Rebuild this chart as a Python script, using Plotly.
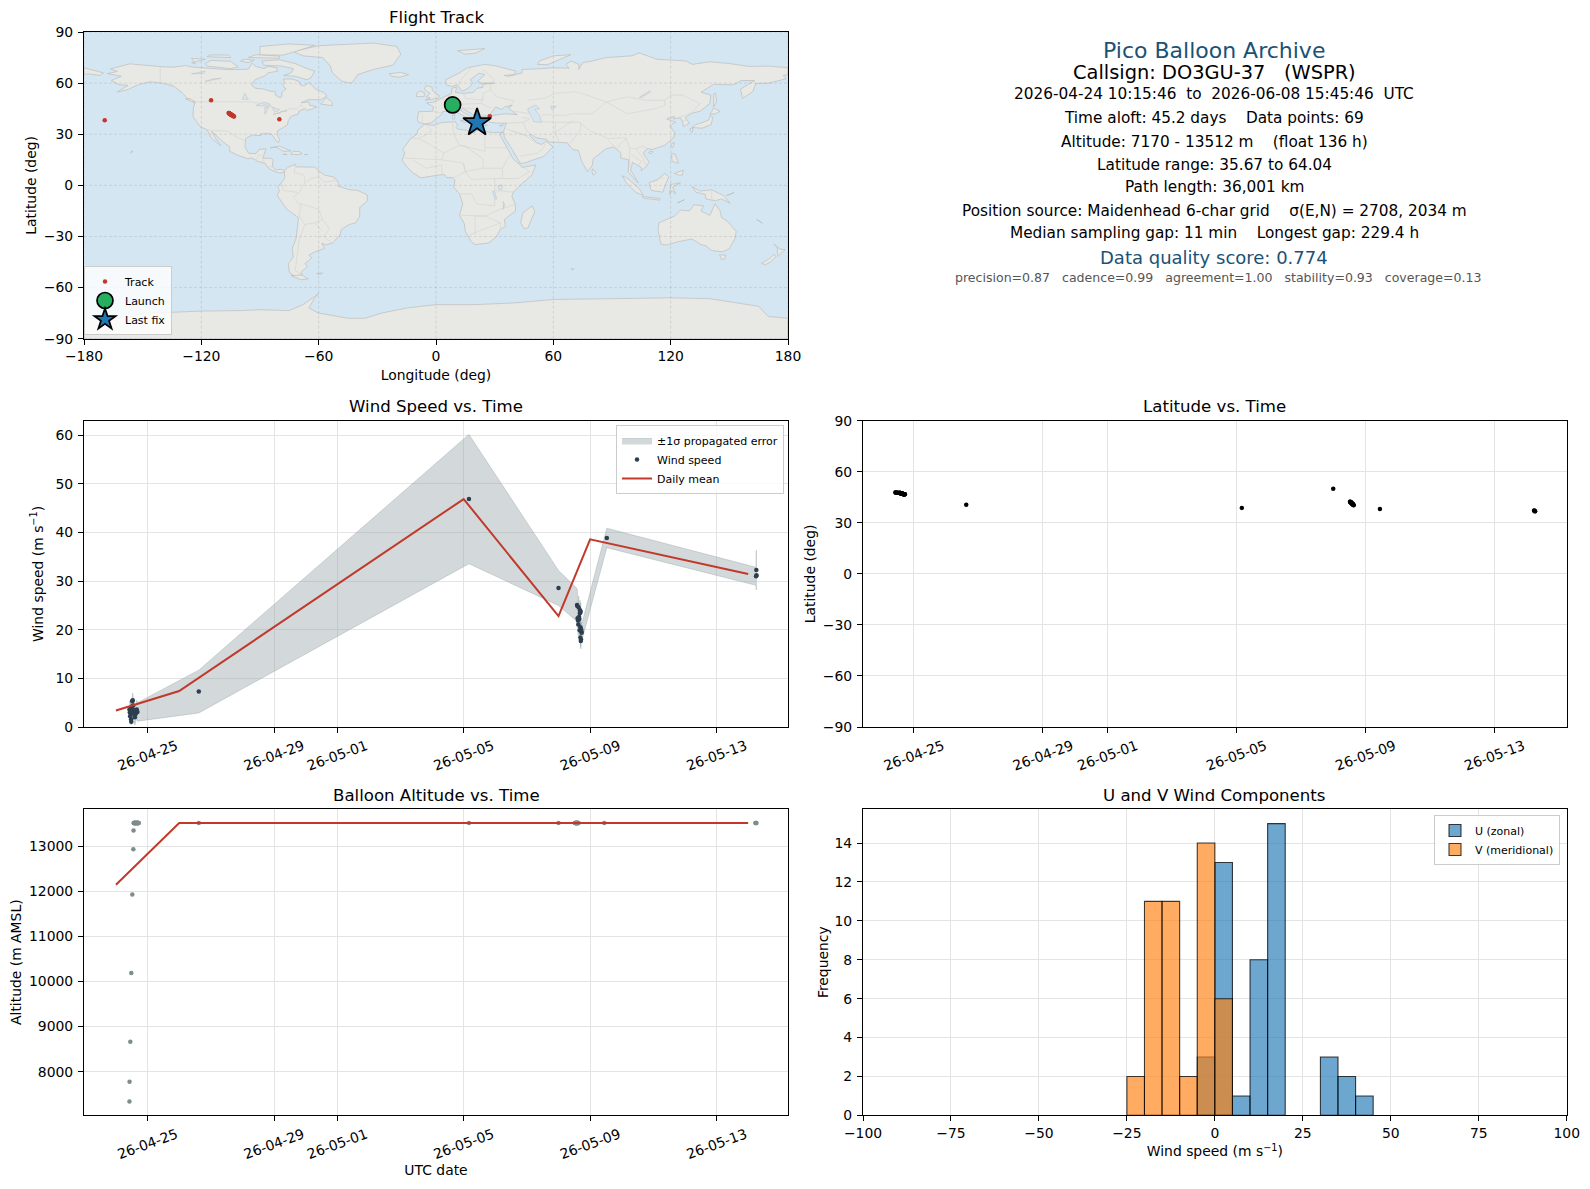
import plotly.graph_objects as go

# Размер страницы: у body отступ 8 px, поэтому фигура меньше окна и все позиции сдвинуты
PAGE = 8
W, H = 1590 - 2 * PAGE, 1189 - 2 * PAGE
RED = '#c0392b'
NAVY = '#2c3e50'
GRAY = '#7f8c8d'
BLUE = '#1a5276'
LAND = '#e8e8e4'
OCEAN = '#d4e6f1'
GRID = '#e4e4e4'
FONT = 'DejaVu Sans'

# Значения
launch_times = ['10:15', '10:20', '10:55', '11:40', '12:26', '13:12', '13:21', '13:30', '13:37', '13:44',
                '13:51', '13:58', '14:05', '14:12', '14:19', '14:26', '14:33', '14:40', '14:47', '14:54',
                '15:01', '15:08', '15:15', '15:22', '15:29', '15:36', '15:43', '15:50', '15:57', '16:04',
                '16:11', '16:18', '16:25', '16:32', '16:39', '16:46', '16:53', '17:00', '17:07', '17:14']
wing_times = ['12:30', '12:38', '12:46', '12:54', '13:02', '13:10', '13:18', '13:26', '13:34', '13:42', '13:50',
              '13:58', '14:06', '14:14', '14:22', '14:30', '14:38', '14:46', '14:54', '15:02', '15:10']

pos_time = (['2026-04-24 ' + t for t in launch_times]
            + ['2026-04-26 14:54', '2026-05-05 04:00', '2026-05-08 00:00']
            + ['2026-05-08 ' + t for t in wing_times]
            + ['2026-05-09 10:45', '2026-05-14 05:30', '2026-05-14 05:45', '2026-05-14 06:00', '2026-05-14 06:15'])
pos_lat = [47.8, 47.8, 47.8, 47.7, 47.7, 47.7, 47.6, 47.6, 47.6, 47.5, 47.5, 47.5, 47.4, 47.4, 47.4, 47.3,
           47.3, 47.3, 47.2, 47.2, 47.2, 47.1, 47.1, 47.1, 47.0, 47.0, 47.0, 47.0, 46.9, 46.9, 46.9, 46.9,
           46.8, 46.8, 46.8, 46.8, 46.8, 46.8, 46.8, 46.8,
           40.6, 38.8, 50.0,
           42.4, 42.4, 42.3, 42.2, 42.1, 42.0, 41.9, 41.8, 41.7, 41.6, 41.5, 41.4, 41.3, 41.2, 41.1, 41.0,
           40.9, 40.8, 40.7, 40.5, 40.4,
           38.2, 37.3, 37.1, 36.9, 36.8]
pos_lon = [8.6, 8.6, 8.7, 8.7, 8.8, 8.8, 8.9, 8.9, 8.9, 9.0, 9.0, 9.0, 9.1, 9.1, 9.1, 9.2, 9.2, 9.2, 9.3, 9.3,
           9.3, 9.4, 9.4, 9.4, 9.5, 9.5, 9.5, 9.5, 9.6, 9.6, 9.6, 9.6, 9.7, 9.7, 9.7, 9.7, 9.8, 9.8, 9.8, 9.8,
           27.5, -80.1, -115.0,
           -106.0, -105.9, -105.8, -105.7, -105.6, -105.4, -105.3, -105.2, -105.0, -104.9, -104.8, -104.6,
           -104.5, -104.4, -104.2, -104.1, -103.9, -103.8, -103.6, -103.5, -103.3,
           -169.4, 20.5, 20.7, 20.9, 21.0]
pos_alt = [7340, 7779, 8663, 10187, 11927, 12927, 13347, 13512, 13512, 13512, 13512, 13512, 13512, 13512,
           13512, 13512, 13512, 13512, 13512, 13512, 13512, 13512, 13512, 13512, 13512, 13512, 13512, 13512,
           13512, 13512, 13512, 13512, 13512, 13512, 13512, 13512, 13512, 13512, 13512, 13512,
           13512, 13512, 13512,
           13512, 13512, 13512, 13512, 13512, 13512, 13512, 13512, 13512, 13512, 13512, 13512, 13512, 13512,
           13512, 13512, 13512, 13512, 13512, 13512, 13512,
           13512, 13512, 13512, 13512, 13512]

launch_lon, launch_lat = [8.5], [47.2]
last_lon, last_lat = [21.0], [36.8]

wind_time = ['2026-04-24 10:15', '2026-04-24 10:30', '2026-04-24 10:45', '2026-04-24 11:00', '2026-04-24 11:15',
             '2026-04-24 11:30', '2026-04-24 11:40', '2026-04-24 11:55', '2026-04-24 12:10', '2026-04-24 12:25',
             '2026-04-24 12:45', '2026-04-24 13:05', '2026-04-24 13:25', '2026-04-24 13:45', '2026-04-24 14:05',
             '2026-04-24 14:25', '2026-04-24 14:50', '2026-04-24 15:20', '2026-04-24 15:50', '2026-04-24 16:20',
             '2026-04-26 14:54', '2026-05-05 04:00', '2026-05-08 00:00',
             '2026-05-08 14:05', '2026-05-08 14:20', '2026-05-08 14:30', '2026-05-08 14:50', '2026-05-08 15:00',
             '2026-05-08 15:18', '2026-05-08 15:36', '2026-05-08 15:50', '2026-05-08 16:04', '2026-05-08 16:15',
             '2026-05-08 16:22', '2026-05-08 16:36', '2026-05-08 16:42', '2026-05-08 16:50', '2026-05-08 16:55',
             '2026-05-08 17:05', '2026-05-08 17:15', '2026-05-08 17:25', '2026-05-08 17:35',
             '2026-05-09 12:40', '2026-05-14 06:00', '2026-05-14 06:10', '2026-05-14 06:20']
wind_speed = [3.6, 3.0, 2.2, 3.8, 2.8, 1.6, 1.1, 3.4, 4.2, 5.3, 5.5, 4.4, 3.5, 2.9, 2.4, 2.0, 2.6, 3.3, 3.6, 3.1,
              7.3, 46.9, 28.6,
              25.1, 24.9, 22.4, 21.9, 21.1, 24.6, 22.7, 22.2, 19.9, 23.4, 24.0, 18.4, 20.5, 23.7, 17.7, 18.0, 20.0,
              19.6, 19.4,
              38.9, 31.0, 32.3, 31.2]
wind_sigma = [1.9, 1.8, 1.5, 1.9, 1.7, 1.2, 0.7, 1.6, 1.8, 1.6, 1.5, 1.8, 1.8, 1.8, 1.8, 1.6, 1.8, 1.8, 1.9, 1.9,
              4.4, 13.3, 3.6,
              3.4, 3.2, 2.6, 2.5, 2.3, 2.4, 2.2, 2.2, 2.0, 2.1, 2.1, 1.9, 1.9, 1.9, 1.6, 1.7, 1.7, 1.7, 1.7,
              2.0, 1.85, 4.1, 2.0]

mean_day = ['2026-04-24', '2026-04-26', '2026-05-05', '2026-05-08', '2026-05-09', '2026-05-14']
mean_wind = [3.4, 7.4, 46.9, 22.8, 38.6, 31.5]
mean_alt = [12144, 13512, 13512, 13512, 13512, 13512]

u_bins = [-2.5, 2.5, 7.5, 12.5, 17.5, 32.5, 37.5, 42.5]
u_counts = [3, 13, 1, 8, 15, 3, 2, 1]
v_bins = [-22.5, -17.5, -12.5, -7.5, -2.5, 2.5]
v_counts = [2, 11, 11, 2, 14, 6]

date_ticks = ['2026-04-25', '2026-04-29', '2026-05-01', '2026-05-05', '2026-05-09', '2026-05-13']
lon_ticks = [-180, -120, -60, 0, 60, 120, 180]
lat_ticks = [-90, -60, -30, 0, 30, 60, 90]

info_lines = [
    ('Pico Balloon Archive', 22, BLUE, 1214, 50.5),
    ('Callsign: DO3GU-37   (WSPR)', 19.4, 'black', 1214, 73),
    ('2026-04-24 10:15:46  to  2026-06-08 15:45:46  UTC', 15.3, 'black', 1214, 94),
    ('Time aloft: 45.2 days    Data points: 69', 15.3, 'black', 1214, 118),
    ('Altitude: 7170 - 13512 m    (float 136 h)', 15.3, 'black', 1214, 142),
    ('Latitude range: 35.67 to 64.04', 15.3, 'black', 1214, 164.5),
    ('Path length: 36,001 km', 15.3, 'black', 1214, 186.5),
    ('Position source: Maidenhead 6-char grid    σ(E,N) = 2708, 2034 m', 15.3, 'black', 1214, 210.5),
    ('Median sampling gap: 11 min    Longest gap: 229.4 h', 15.3, 'black', 1214, 233.5),
    ('Data quality score: 0.774', 18, BLUE, 1214, 257),
    ('precision=0.87   cadence=0.99   agreement=1.00   stability=0.93   coverage=0.13', 12.55, '#555555', 1218, 277.5),
]

# Контуры суши: долгота / широта
north_america = [(-156.6, 71.3), (-150, 70.5), (-141, 69.7), (-135, 69.3), (-128, 70.3), (-125, 69.5), (-115, 68.5),
                 (-108, 68), (-100, 68), (-96, 68.2), (-94, 71.7), (-92, 69.7), (-88, 68.6), (-85.5, 69.8), (-81.5, 69),
                 (-81, 67), (-86, 66), (-87, 64.5), (-92.5, 62), (-94.5, 59), (-92.5, 57), (-88, 56.5), (-85, 55.3),
                 (-82.3, 55.1), (-82, 52.9), (-79.5, 51.3), (-78.8, 52.5), (-79, 54.5), (-76.7, 56.5), (-78.5, 58.8),
                 (-77.5, 60), (-78, 62.4), (-73.5, 62.4), (-70, 61), (-69.5, 59), (-67.5, 58.3), (-65, 60.3),
                 (-61.5, 56.5), (-57.5, 54.5), (-55.7, 52.5), (-59, 50.2), (-65, 50.3), (-69, 48.5), (-65, 49),
                 (-64.5, 47), (-61, 46), (-63.5, 44.7), (-66, 44), (-67, 45), (-70, 43.7), (-70.5, 41.8), (-74, 40.6),
                 (-75.5, 38), (-76, 35.5), (-78, 34), (-81, 32), (-81.3, 30), (-80, 26.8), (-80.5, 25.2), (-81.8, 26),
                 (-82.8, 28), (-84, 30), (-86, 30.4), (-89.5, 30.2), (-89.5, 29.2), (-94, 29.5), (-97.3, 27.5),
                 (-97.7, 22.5), (-95.8, 18.8), (-92, 18.6), (-90.5, 21), (-87, 21.5), (-88, 18), (-88.5, 16), (-84, 15.8),
                 (-83.3, 14.9), (-83.7, 11), (-82, 9), (-79.5, 9.5), (-77.4, 8.7), (-78, 7.5), (-80, 7.3), (-81.5, 7.8),
                 (-83, 8.3), (-85.7, 10), (-87.5, 13), (-91, 14), (-94, 16), (-96.5, 15.7), (-101, 17.5), (-105.5, 20),
                 (-105.5, 22.5), (-109, 25.6), (-112.7, 29.5), (-114.7, 31.7), (-113, 28), (-110, 23.2), (-112, 25),
                 (-115, 28), (-117, 32.5), (-120.6, 34.5), (-122.5, 37.5), (-124.3, 40.3), (-124, 46), (-123, 49),
                 (-127, 51), (-130, 54.5), (-134, 58), (-139, 59.8), (-146, 60.8), (-152, 59.2), (-158, 56), (-163, 54.7),
                 (-157.5, 58.7), (-162, 59), (-166, 61.5), (-161, 64), (-168, 65.6), (-163, 66.8), (-166.5, 68.3)]
south_america = [(-77.4, 8.7), (-75.5, 10.7), (-72, 12.3), (-71.5, 10.8), (-68, 10.8), (-62, 10.7), (-60, 8.5), (-57, 6),
                 (-52, 4.8), (-50, 1.7), (-50, -0.5), (-44.5, -2.5), (-40, -3), (-35.2, -5.5), (-35, -9), (-39, -13),
                 (-39, -18), (-41, -22), (-44.5, -23), (-48.5, -26), (-49, -29), (-53, -34), (-56.5, -34.9), (-58.4, -34),
                 (-57, -37), (-62, -39), (-65, -41), (-63.5, -42.6), (-67, -46), (-65.7, -47.5), (-69, -51), (-68.4, -52.4),
                 (-72, -53.5), (-75, -51), (-75.5, -46), (-73, -42), (-73.5, -37), (-71.5, -31), (-70.3, -19), (-76.3, -14),
                 (-81.2, -6), (-80, -3), (-80.9, -1), (-78.5, 2), (-77.3, 4), (-77.5, 7)]
africa = [(-5.9, 35.8), (-1, 35.2), (3, 36.9), (10, 37.3), (11, 35), (10.2, 34), (11, 33), (15.5, 32.3), (19.5, 30.5),
          (20, 32), (23, 32.7), (25, 31.6), (29, 31), (32, 31.2), (34.2, 31.2), (32.5, 30), (34, 27), (36, 23), (37.3, 20),
          (39.5, 15.5), (43, 12), (44, 10.5), (51, 12), (49, 6), (44, 1), (39.5, -4), (38.8, -6.5), (40.5, -11), (40.7, -15),
          (35, -20), (35.5, -24), (32.8, -26), (31, -30), (27, -33.8), (20, -34.8), (18, -33), (15, -27), (14.5, -22.5),
          (12, -17.5), (13.7, -11), (12, -5), (9, -1), (9.7, 3), (8.5, 4.6), (5.5, 4.5), (4.4, 6.3), (1, 6), (-4, 5.2),
          (-7.7, 4.4), (-12, 7.5), (-15, 11), (-17.3, 14.7), (-16, 19), (-17, 21), (-13, 27.5), (-9.7, 30), (-9.3, 32.5)]
eurasia = [(-9, 37), (-9.5, 38.8), (-8.9, 43.2), (-1.8, 43.5), (-1.2, 46), (-4.7, 48.4), (-1.5, 48.7), (1.5, 50.5), (4, 52),
           (8, 54), (8.2, 57), (10.5, 57.7), (10, 54.5), (14, 54), (19, 54.5), (21, 57), (24, 57.5), (24, 59.3), (30, 60),
           (23, 60), (21.3, 61), (25, 65), (22, 65.8), (17.5, 62), (18.8, 60), (16.5, 57), (14, 55.5), (12.7, 56), (11, 59),
           (8, 58), (5.2, 59), (5, 62), (12, 66), (16, 69), (25, 71), (31, 70), (41, 67), (40, 65), (35, 64.5), (37, 64),
           (44, 66), (44, 68), (54, 68.5), (60, 69), (68, 68.8), (66.5, 71), (69, 73), (73, 71), (73, 68), (75, 72), (80, 73),
           (87, 75), (100, 76), (104, 77.7), (113, 74), (128, 73), (131, 71), (140, 72.5), (150, 71.5), (160, 69.8), (170, 70),
           (180, 69), (180, 65), (177.5, 64.5), (179, 62.5), (170, 60), (163.5, 59.8), (162, 55), (156.8, 51), (155.7, 56.5),
           (163, 61.5), (156, 61.5), (152, 59), (142, 59.3), (135.5, 54.7), (140.5, 53), (140, 48), (135, 43.5), (130.7, 42.3),
           (127.5, 39.8), (129.5, 36.5), (126.5, 34.5), (126, 37.5), (125, 39.7), (121.5, 39), (122, 40.5), (118, 39),
           (122.5, 37), (119.5, 35), (122, 31), (121.5, 28), (117, 23.5), (110.5, 21), (108, 21.6), (106, 19), (109, 13.5),
           (107, 10.5), (105, 8.7), (105, 10.5), (100.5, 13.5), (99.5, 9), (103.5, 1.4), (100.5, 5), (98.3, 8), (98.5, 15),
           (94.5, 16), (94.5, 19), (91, 22.5), (87, 21.5), (80.3, 15.5), (80, 12), (77.5, 8), (74.5, 14), (72.8, 20.5), (70, 21),
           (67, 25), (57.5, 25.5), (56.5, 27), (51, 28), (48.5, 30), (47.7, 29.5), (50, 26.5), (51.5, 25), (54, 24), (56.3, 26),
           (59.8, 22.5), (55, 17), (45, 13), (43, 13), (39, 21), (35, 28), (34.5, 31.5), (36, 36.5), (31, 36.5), (27.5, 37),
           (26.5, 39.5), (29, 41), (35, 42), (41.5, 41.5), (38, 44.5), (37, 45.5), (39, 47), (35, 46), (33.5, 44.5), (30.5, 46),
           (28, 42), (26, 40.8), (23, 40.5), (24, 38), (22.5, 36.5), (19.5, 41), (13.5, 45.5), (12.5, 44), (16, 41.5), (18.5, 40),
           (16.5, 38), (15.7, 40), (10.5, 43), (8, 44), (3.3, 43.2), (3, 41.7), (-0.5, 38.5), (-2.3, 36.8), (-5.5, 36)]
chukotka = [(-180, 69), (-175, 67.5), (-170, 66), (-172, 64.5), (-178, 65.5), (-180, 65)]
greenland = [(-73, 78.5), (-60, 82), (-32, 83.5), (-20, 81.5), (-18, 77), (-22, 70.5), (-32, 68), (-40, 65), (-43, 60),
             (-48, 61), (-53, 66), (-54, 70), (-58, 75), (-68, 76)]
australia = [(114, -22), (113.5, -26), (115, -34.5), (118, -35), (124, -33), (131, -31.5), (135.5, -34.8), (138, -35.5),
             (141, -38.3), (146.5, -39), (150, -37.3), (153, -31), (153.5, -27), (149, -21), (146, -19), (145.3, -15),
             (142.7, -10.8), (141.5, -14), (140, -17.7), (135.5, -15), (136.8, -12), (132, -11.3), (129.5, -15), (125, -14.5),
             (122, -18)]
antarctica = [(-180, -78), (-165, -78), (-155, -77), (-150, -75), (-135, -74.5), (-120, -73.8), (-100, -73.5), (-90, -73),
              (-75, -73.5), (-68, -70), (-60, -63.5), (-62, -66), (-65, -72), (-60, -75), (-45, -78), (-36, -78), (-28, -75),
              (-15, -72), (0, -70), (20, -70), (40, -69), (60, -67), (90, -66.5), (120, -66), (140, -66.5), (165, -71), (170, -77),
              (180, -78), (180, -90), (-180, -90)]
islands = [
    [(-80, 73.7), (-72, 71.5), (-67, 69), (-62, 67), (-64, 63), (-66, 62), (-72, 64), (-78, 64.5), (-74, 66), (-73, 68.5),
     (-79, 70), (-88, 70.5), (-89, 73)],
    [(-117, 70), (-105, 68.5), (-101, 69.5), (-105, 72.8), (-115, 73.3), (-118, 71.5)],
    [(-90, 76.5), (-78, 76.5), (-72, 78.5), (-62, 82.2), (-75, 83), (-90, 81.5)],
    [(-125, 72), (-118, 74), (-125, 74.5), (-123, 71.3)],
    [(-96, 75), (-80, 74.6), (-80, 75.8), (-92, 76.7)],
    [(-117, 75.5), (-105, 75), (-106, 76.5), (-116, 76.5)],
    [(-100, 73), (-96, 72), (-93, 73.5), (-98, 74)],
    [(-59, 47.7), (-53, 46.8), (-53, 48.5), (-56, 51.5)],
    [(-128, 50.8), (-123.5, 48.4), (-125, 50.5)],
    [(-84.8, 22), (-80, 23), (-74.2, 20.2), (-77.7, 19.9), (-82, 22.5)],
    [(-74.4, 18.4), (-71, 18), (-68.4, 18.6), (-70, 19.9), (-73, 19.9)],
    [(-78.3, 18.3), (-76.2, 18), (-76.5, 18.4)],
    [(-67.2, 18), (-65.6, 18.2), (-66.5, 18.5)],
    [(-156, 19), (-155, 19.8), (-155.8, 20.2)],
    [(-68.6, -52.6), (-65.3, -54.9), (-69, -55.4), (-74, -53)],
    [(-61, -51.8), (-58, -51.4), (-59, -52.3)],
    [(49.3, -12), (50.5, -15.5), (47, -25), (45, -25.5), (43.3, -22), (44.5, -16)],
    [(-5.5, 50), (1.3, 51.2), (1.7, 52.7), (0, 53.5), (-2, 56), (-2, 57.6), (-5, 58.6), (-6, 56.5), (-3, 54), (-5, 52), (-3, 51.4)],
    [(-10, 52), (-6, 52.2), (-6, 54.5), (-8, 55.3), (-10, 54)],
    [(-24, 65.5), (-18, 66.3), (-14, 65), (-18.5, 63.4), (-22.5, 64)],
    [(11, 79), (25, 80.3), (20, 77.5), (15, 77)],
    [(52, 71), (57, 70.8), (69, 76.7), (60, 76), (53, 73)],
    [(12.5, 38), (15.5, 38.2), (15, 36.7)], [(8.3, 41), (9.7, 41), (9.5, 39), (8.5, 39)], [(8.7, 42.5), (9.5, 43), (9.3, 41.5)],
    [(23.5, 35.4), (26.2, 35.2), (24.5, 35)], [(32.5, 35), (34.5, 35.6), (33.5, 34.7)],
    [(130.9, 34), (136, 33.5), (140.8, 35.7), (141.5, 40), (140.3, 41), (139.5, 38.5), (136.7, 37), (132.5, 35.5)],
    [(130, 33.5), (131.5, 33.5), (131, 31), (130, 32)], [(140, 41.8), (143, 42), (145.3, 43.5), (141.8, 45.4), (141, 43.2)],
    [(142, 46), (143.5, 49), (143, 54), (142, 53.8), (142, 49)], [(120.2, 23), (121, 22), (122, 25), (121, 25)],
    [(108.7, 19.3), (110, 18.4), (111, 19.7), (110, 20)], [(120.5, 18.5), (122.2, 18.4), (124, 13), (120.7, 14)],
    [(122, 7), (126.5, 9), (126, 6), (124, 6)], [(109, 1.5), (113, 3), (117, 7), (119, 5), (117.5, 1), (116, -4), (110, -3)],
    [(95.3, 5.6), (98, 4), (104, -2), (106, -6), (102, -4), (97, 2)], [(105.5, -6.5), (114.5, -7.7), (114.5, -8.7), (106, -7.5)],
    [(119.5, -5.5), (120, 0.5), (125, 1.5), (121, -1), (122.5, -5), (120.5, -3)],
    [(131, -0.8), (135, -3.3), (141, -2.6), (147, -6), (150.5, -10.5), (146, -8), (143, -9), (138, -8), (137.7, -5.3), (133, -4), (132, -2.5)],
    [(123.5, -10.3), (127, -8.4), (125, -9)], [(80, 9.7), (82, 7.5), (80.5, 6), (79.8, 8)],
    [(145, -40.8), (148.3, -41), (147.5, -43.3), (146, -43.5)],
    [(172.7, -34.5), (176, -37.5), (178.5, -37.7), (175, -41.5), (174.5, -39), (174.7, -36.5)],
    [(172.7, -40.5), (174, -41.7), (171, -45), (168.5, -46.6), (166.5, -45.8), (170.5, -43)],
    [(164, -20), (167, -22.3), (166, -22)], [(69, -49), (70.5, -49), (70, -49.7)], [(151, -5), (152.5, -4.2), (148.5, -6)],
]
lakes = [
    [(-92, 46.8), (-88, 48.8), (-85, 47.8), (-84.7, 46.5), (-88, 46.6)], [(-87.5, 41.8), (-85.5, 45.8), (-87.5, 45.8)],
    [(-84, 46), (-80, 44.5), (-82, 43), (-83.5, 45)], [(-83.3, 41.7), (-79, 42.8), (-81, 42.7)], [(-79.5, 43.3), (-76.3, 43.5), (-76.5, 44)],
    [(47, 45), (51, 47), (53, 45), (50.5, 44.5), (53, 41), (54, 37), (50, 37.3), (49, 40), (47, 44)],
    [(58.5, 46.5), (61.5, 46.5), (59.5, 44)], [(104, 51.6), (109.5, 55.5), (109.8, 55), (105, 51.5)],
    [(31.8, 0), (34, 0), (33.5, -2.7), (31.8, -2)], [(29, -3.5), (30, -3.5), (31, -8), (30, -8)], [(34.3, -9.5), (35, -11), (34.5, -14)],
    [(-118, 61), (-110, 62.8), (-114, 62.5)], [(-125, 65.5), (-118, 67), (-119, 65.5)], [(-99, 50.5), (-96, 50.5), (-97.8, 54)],
]
borders = [
    [(-141, 69.7), (-141, 60.3), (-135, 59), (-130, 55)],
    [(-123, 49), (-95, 49), (-89, 48), (-84, 46.5), (-82.5, 42), (-79, 43), (-75, 45), (-71, 45), (-69, 47.3), (-67, 45)],
    [(-117, 32.5), (-108, 31.5), (-106, 31.7), (-103, 29), (-97.3, 26)],
    [(-92, 14.5), (-91, 17.5), (-89, 17.8)], [(-89, 15.8), (-87.5, 13)], [(-83.7, 11), (-85.7, 11)], [(-83, 8.3), (-82.7, 9.6)],
    [(-72, 12), (-72.5, 7.5), (-67.5, 6), (-67, 1.5), (-70, -4.2), (-78, -3), (-79, 1.4)],
    [(-60, 8.5), (-60, 5), (-64, 4), (-67, 1.5)], [(-60, 5), (-57, 2), (-52, 2.5), (-52, 4.8)],
    [(-70, -4.2), (-73, -7), (-70, -11), (-69, -11), (-60, -14), (-58, -20), (-54.5, -25.5), (-57.5, -30), (-53, -34)],
    [(-70, -18), (-69, -11)], [(-70, -18), (-67, -23), (-70, -32), (-71, -40), (-72, -50), (-69, -52)],
    [(-67, -23), (-62, -22), (-58, -20)], [(-58, -27), (-62, -22)],
    [(-5, 35.5), (-2, 32), (-8.7, 27.5), (-13, 27.5)], [(-8.7, 27.5), (4, 19), (12, 23.5), (25, 20), (25, 31.6)],
    [(8.5, 37), (9, 30), (12, 23.5)], [(12, 23.5), (15, 23), (24, 15.5), (24, 10), (34, 10), (36, 14.5), (38, 18)], [(25, 22), (37, 22)],
    [(4, 19), (3, 15), (14, 13), (15, 8), (9, 4.5)], [(-16.5, 16), (-5, 15.5), (3, 15)], [(-12, 15), (-5, 10), (3, 12), (3, 6.3)],
    [(14, 13), (15, 8), (24, 10)], [(15, 8), (18, 3.5), (30, 4), (34, 4)], [(12, -5), (18, -5), (21, -11), (30, -12), (30, -8)],
    [(34, 10), (34, 4), (42, 4), (48, 8), (43, 12)], [(30, 4), (30, -3), (40, -4)], [(12, -17.5), (25, -18), (33, -14), (40.5, -11)],
    [(20, -29), (20, -18), (25, -18), (33, -22), (32.8, -26)], [(17, -29), (29, -24), (33, -22)],
    [(-1.8, 43.5), (3, 42.5)], [(-7, 42), (-7, 37)], [(2.5, 51), (8, 49), (7, 44)], [(6, 51), (7, 53.5)], [(8, 47.5), (17, 48), (23, 48), (28, 45.5)],
    [(14, 54), (15, 51), (24, 50), (24, 54), (28, 56), (27.5, 60)], [(23, 48), (24, 52)], [(13.5, 45.5), (19, 45), (22, 42), (26, 41)],
    [(24, 68), (30, 62), (28, 60)], [(18, 69), (12, 61), (11.5, 59)], [(28, 56), (31, 52), (40, 49.5), (38, 47)],
    [(40, 43.5), (48.5, 42)], [(44, 40), (48, 39), (44.5, 37), (46, 33), (48, 30)], [(36, 36.5), (44.5, 37)], [(36, 33), (39, 32), (47, 29)],
    [(39, 32), (46, 29), (51, 25)], [(52, 19), (55, 22), (56, 25)], [(43, 17), (52, 19)], [(61, 37), (61, 31), (63, 25)], [(61, 31), (70, 38)], [(61, 37), (54, 37.5)],
    [(47, 50), (55, 51), (61, 54), (71, 55), (77, 53), (87, 49)], [(54, 41.5), (66, 41), (70, 42), (80, 42), (87, 49)], [(61, 37), (73, 37)],
    [(87, 49), (98, 52), (107, 50), (117, 50), (120, 53), (126, 53), (135, 48), (131, 43)], [(87, 49), (98, 42), (112, 45), (117, 47), (117, 50)],
    [(73, 37), (79, 32), (88, 27.5), (97, 28), (99, 22), (102, 21.5), (106, 23), (108, 21.6)],
    [(68, 24), (71, 28), (74, 33), (74, 37)], [(88, 26.5), (92, 22)], [(98, 28), (94, 24), (92.5, 21)], [(99, 22), (99, 16), (99, 10)],
    [(102, 21.5), (106, 16), (107, 12)], [(100, 18), (105, 14), (103, 11)], [(124.5, 40), (130.5, 42.5)], [(126, 38), (128.5, 38.5)],
    [(141, -2.6), (141, -9)], [(109.5, 2), (115, 4.5), (117, 4)],
]


# Пиксели окна в доли фигуры
def fx(x):
    return (x - PAGE) / W


def fy(y):
    return 1 - (y - PAGE) / H


def axis_style(**kw):
    style = dict(showline=True, mirror=True, linecolor='black', linewidth=1.1, ticks='outside', ticklen=5, tickwidth=1.1,
                 tickcolor='black', showgrid=True, gridcolor=GRID, gridwidth=1.1, zeroline=False, automargin=False,
                 tickfont=dict(family=FONT, size=13.9, color='black'))
    style.update(kw)
    return style


def date_axis(rng, x0, x1, anchor):
    return axis_style(type='date', range=rng, domain=[fx(x0), fx(x1)], anchor=anchor, tickmode='array', tickvals=date_ticks,
                      tickformat='%y-%m-%d', tickangle=-20, ticklabelshift=29)


def y_title(text, standoff):
    return dict(text=text, font=axis_title, standoff=standoff)


axis_title = dict(family=FONT, size=13.9, color='black')

fig = go.Figure()

# Карта: океан — фон осей, суша — заливка
for shape in [north_america, south_america, africa, eurasia, chukotka, greenland, australia, antarctica] + islands:
    fig.add_trace(go.Scatter(x=[p[0] for p in shape] + [shape[0][0]], y=[p[1] for p in shape] + [shape[0][1]],
                             mode='lines', fill='toself', fillcolor=LAND, line=dict(color='#bdbdbd', width=0.7),
                             hoverinfo='skip', showlegend=False))
for shape in lakes:
    fig.add_trace(go.Scatter(x=[p[0] for p in shape] + [shape[0][0]], y=[p[1] for p in shape] + [shape[0][1]],
                             mode='lines', fill='toself', fillcolor=OCEAN, line=dict(color='#bdbdbd', width=0.5),
                             hoverinfo='skip', showlegend=False))
for line in borders:
    fig.add_trace(go.Scatter(x=[p[0] for p in line], y=[p[1] for p in line], mode='lines',
                             line=dict(color='#d6d6d2', width=0.7), hoverinfo='skip', showlegend=False))

# Сетка поверх суши, как на исходнике
for lon in lon_ticks:
    fig.add_trace(go.Scatter(x=[lon, lon], y=[lat_ticks[0], lat_ticks[-1]], mode='lines',
                             line=dict(color='rgba(128,128,128,0.3)', width=0.7, dash='3px,2px'),
                             hoverinfo='skip', showlegend=False))
for lat in lat_ticks:
    fig.add_trace(go.Scatter(x=[lon_ticks[0], lon_ticks[-1]], y=[lat, lat], mode='lines',
                             line=dict(color='rgba(128,128,128,0.3)', width=0.7, dash='3px,2px'),
                             hoverinfo='skip', showlegend=False))

fig.add_trace(go.Scatter(x=pos_lon, y=pos_lat, mode='markers', name='Track', legend='legend',
                         marker=dict(color=RED, size=4.5)))
fig.add_trace(go.Scatter(x=launch_lon, y=launch_lat, mode='markers', name='Launch', legend='legend',
                         marker=dict(color='#27ae60', size=16, line=dict(color='black', width=1.7))))
fig.add_trace(go.Scatter(x=last_lon, y=last_lat, mode='markers', name='Last fix', legend='legend',
                         marker=dict(color='#1f77b4', size=21, symbol='star', line=dict(color='black', width=1.7))))

# Скорость ветра
band_upper = [s + e for s, e in zip(wind_speed, wind_sigma)]
band_lower = [s - e for s, e in zip(wind_speed, wind_sigma)]
fig.add_trace(go.Scatter(x=wind_time + wind_time[::-1], y=band_upper + band_lower[::-1], mode='lines', fill='toself',
                         fillcolor='rgba(149,165,166,0.42)', line=dict(color='rgba(149,165,166,0.4)', width=1),
                         name='±1σ propagated error', xaxis='x2', yaxis='y2', legend='legend2', hoverinfo='skip'))
fig.add_trace(go.Scatter(x=wind_time, y=wind_speed, mode='markers', name='Wind speed', xaxis='x2', yaxis='y2',
                         legend='legend2', marker=dict(color=NAVY, size=4.5)))
fig.add_trace(go.Scatter(x=mean_day, y=mean_wind, mode='lines', name='Daily mean', xaxis='x2', yaxis='y2',
                         legend='legend2', line=dict(color=RED, width=2)))

# Широта
fig.add_trace(go.Scatter(x=pos_time, y=pos_lat, mode='markers', xaxis='x3', yaxis='y3', showlegend=False,
                         marker=dict(color='black', size=4.5)))

# Высота
fig.add_trace(go.Scatter(x=pos_time, y=pos_alt, mode='markers', xaxis='x4', yaxis='y4', showlegend=False,
                         marker=dict(color=GRAY, size=4.5)))
fig.add_trace(go.Scatter(x=mean_day, y=mean_alt, mode='lines', xaxis='x4', yaxis='y4', showlegend=False,
                         line=dict(color=RED, width=2)))

# Гистограмма U и V: прозрачность в цвете, чтобы и образец в легенде был полупрозрачным
fig.add_trace(go.Bar(x=u_bins, y=u_counts, width=5, name='U (zonal)', xaxis='x5', yaxis='y5', legend='legend3',
                     marker=dict(color='rgba(31,119,180,0.65)', line=dict(color='rgba(0,0,0,0.75)', width=1.1))))
fig.add_trace(go.Bar(x=v_bins, y=v_counts, width=5, name='V (meridional)', xaxis='x5', yaxis='y5', legend='legend3',
                     marker=dict(color='rgba(255,127,14,0.65)', line=dict(color='rgba(0,0,0,0.75)', width=1.1))))

annotations = [dict(text=t, x=fx(cx), y=fy(yy), xref='paper', yref='paper', xanchor='center', yanchor='middle',
                    showarrow=False, font=dict(family=FONT, size=s, color=c)) for t, s, c, cx, yy in info_lines]
for title, cx, yy in [('Flight Track', 436, 18), ('Wind Speed vs. Time', 436, 406), ('Latitude vs. Time', 1214, 406),
                      ('Balloon Altitude vs. Time', 436, 795), ('U and V Wind Components', 1214, 795)]:
    annotations.append(dict(text=title, x=fx(cx), y=fy(yy), xref='paper', yref='paper', xanchor='center',
                            yanchor='middle', showarrow=False, font=dict(family=FONT, size=16.6, color='black')))

legend_common = dict(bgcolor='rgba(255,255,255,0.8)', bordercolor='#cccccc', borderwidth=1, xanchor='right',
                     font=dict(family=FONT, size=11, color='black'), tracegroupgap=0)

fig.update_layout(
    width=W, height=H, autosize=False, margin=dict(l=0, r=0, t=0, b=0), plot_bgcolor='white', paper_bgcolor='white',
    barmode='overlay', showlegend=True, annotations=annotations, font=dict(family=FONT),
    xaxis=axis_style(range=[-180, 180], domain=[fx(84), fx(788)], anchor='y', tickmode='array', tickvals=lon_ticks,
                     showgrid=False, title=dict(text='Longitude (deg)', font=axis_title, standoff=6)),
    yaxis=axis_style(range=[-90, 90], domain=[fy(338.7), fy(32)], anchor='x', tickmode='array', tickvals=lat_ticks,
                     showgrid=False, ticklabelstandoff=2, title=y_title('Latitude (deg)', 3)),
    xaxis2=date_axis(['2026-04-22 23:45', '2026-05-15 06:14'], 84, 788, 'y2'),
    yaxis2=axis_style(range=[0, 63], domain=[fy(727), fy(420.8)], anchor='x2', dtick=10, ticklabelstandoff=2,
                      title=y_title('Wind speed (m s<sup>−1</sup>)', 8)),
    xaxis3=date_axis(['2026-04-23 10:05', '2026-05-15 05:45'], 863, 1566.7, 'y3'),
    yaxis3=axis_style(range=[-90, 90], domain=[fy(727), fy(420.8)], anchor='x3', tickmode='array', tickvals=lat_ticks,
                      ticklabelstandoff=2, title=y_title('Latitude (deg)', 3)),
    xaxis4=date_axis(['2026-04-22 23:45', '2026-05-15 06:14'], 84, 788, 'y4') | dict(
        title=dict(text='UTC date', font=axis_title, standoff=2)),
    yaxis4=axis_style(range=[7031, 13821], domain=[fy(1115.4), fy(809)], anchor='x4', dtick=1000, tickformat='d',
                      ticklabelstandoff=2, title=y_title('Altitude (m AMSL)', 9)),
    xaxis5=axis_style(range=[-100, 100], domain=[fx(863), fx(1566.7)], anchor='y5', dtick=25,
                      title=dict(text='Wind speed (m s<sup>−1</sup>)', font=axis_title, standoff=6)),
    yaxis5=axis_style(range=[0, 15.75], domain=[fy(1115.4), fy(809)], anchor='x5', dtick=2, ticklabelstandoff=2,
                      title=y_title('Frequency', 2)),
    legend=legend_common | dict(x=fx(172), y=fy(335), yanchor='bottom'),
    legend2=legend_common | dict(x=fx(784), y=fy(425), yanchor='top'),
    legend3=legend_common | dict(x=fx(1560), y=fy(815), yanchor='top'),
    shapes=[dict(type='rect', xref='x domain', yref='y domain', x0=0, x1=1, y0=0, y1=1, fillcolor=OCEAN,
                 line=dict(width=0), layer='below')],
)

fig.write_html("out.html")
